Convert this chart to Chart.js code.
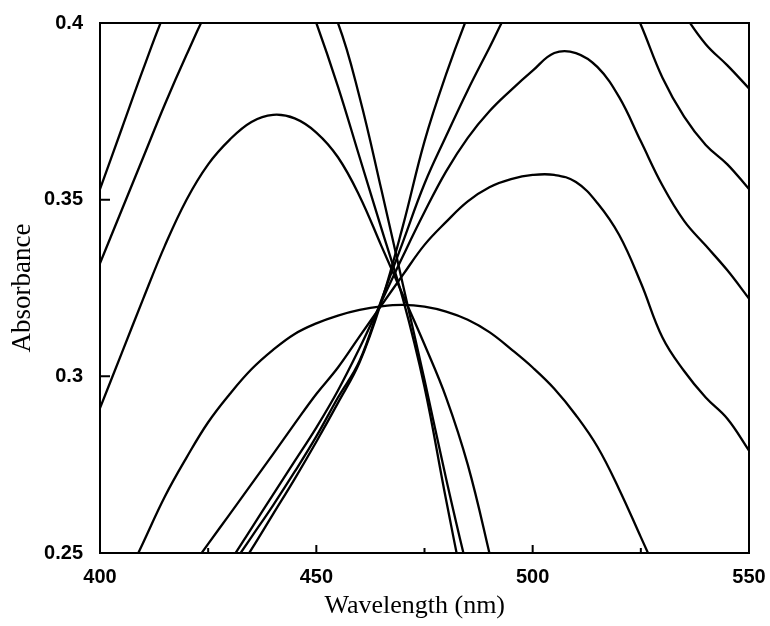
<!DOCTYPE html>
<html>
<head>
<meta charset="utf-8">
<script src="https://cdn.jsdelivr.net/npm/chart.js@4/dist/chart.umd.min.js"></script>
<style>
  html, body { margin: 0; padding: 0; background: #fff; }
</style>
</head>
<body>
<canvas id="chart" width="770" height="626"></canvas>
<script>
// wavelength grid (nm), every 5 nm
const wavelengths = [400, 405, 410, 415, 420, 425, 430, 435, 440, 445, 450, 455, 460, 465, 470,
  475, 480, 485, 490, 495, 500, 505, 510, 515, 520, 525, 530, 535, 540, 545, 550];

// spectra peaking on the short-wavelength side (values above 0.4 run off the frame)
const specL1 = [0.353, 0.370, 0.387, 0.403, 0.416, 0.425, 0.430, 0.431, 0.427, 0.416, 0.400, 0.382, 0.362, 0.342, 0.322,
  0.297, 0.265, 0.235, 0.210, 0.190, 0.175, 0.165, 0.158, 0.152, 0.148, 0.145, 0.142, 0.140, 0.138, 0.136, 0.134];
const specL2 = [0.332, 0.347, 0.362, 0.377, 0.391, 0.404, 0.414, 0.420, 0.422, 0.419, 0.412, 0.400, 0.379, 0.353, 0.326,
  0.299, 0.271, 0.245, 0.222, 0.200, 0.185, 0.175, 0.168, 0.162, 0.158, 0.155, 0.152, 0.150, 0.148, 0.146, 0.144];
const specL3 = [0.291, 0.3065, 0.322, 0.337, 0.350, 0.360, 0.367, 0.372, 0.374, 0.373, 0.369, 0.362, 0.351, 0.337, 0.323,
  0.309, 0.294, 0.275, 0.250, 0.223, 0.200, 0.185, 0.175, 0.168, 0.162, 0.158, 0.155, 0.152, 0.150, 0.148, 0.146];

// broad, flat spectrum
const specF = [0.228, 0.240, 0.253, 0.266, 0.277, 0.287, 0.295, 0.302, 0.3075, 0.312, 0.315, 0.3172, 0.3188, 0.3198, 0.3202,
  0.3197, 0.3183, 0.316, 0.3125, 0.3077, 0.3025, 0.2965, 0.289, 0.280, 0.268, 0.2545, 0.241, 0.228, 0.215, 0.200, 0.190];

// spectra peaking on the long-wavelength side
const specR1 = [0.185, 0.194, 0.203, 0.2125, 0.222, 0.2315, 0.2415, 0.251, 0.261, 0.271, 0.2815, 0.2925, 0.304, 0.321, 0.3425,
  0.3665, 0.3855, 0.402, 0.4165, 0.425, 0.430, 0.433, 0.434, 0.432, 0.427, 0.420, 0.412, 0.4025, 0.394, 0.388, 0.3815];
const specR2 = [0.191, 0.2005, 0.2095, 0.2185, 0.2275, 0.2365, 0.2455, 0.2545, 0.2635, 0.273, 0.283, 0.294, 0.3044, 0.3215, 0.338,
  0.3545, 0.368, 0.381, 0.393, 0.405, 0.414, 0.420, 0.422, 0.420, 0.413, 0.3995, 0.3845, 0.3735, 0.3655, 0.360, 0.353];
const specR3 = [0.196, 0.204, 0.212, 0.221, 0.2295, 0.2385, 0.2475, 0.257, 0.2665, 0.276, 0.2855, 0.296, 0.308, 0.321, 0.334,
  0.3465, 0.358, 0.3675, 0.375, 0.381, 0.3865, 0.3915, 0.3915, 0.3875, 0.379, 0.3665, 0.354, 0.344, 0.337, 0.330, 0.322];
const specR4 = [0.210, 0.218, 0.227, 0.2355, 0.244, 0.2526, 0.261, 0.2695, 0.278, 0.2866, 0.295, 0.3025, 0.3113, 0.320, 0.3287,
  0.3372, 0.3437, 0.3495, 0.3535, 0.3558, 0.357, 0.357, 0.355, 0.349, 0.340, 0.3265, 0.311, 0.3015, 0.294, 0.288, 0.279];

const spectra = [specL1, specL2, specL3, specF, specR1, specR2, specR3, specR4];

const xTicks = [400, 450, 500, 550];
const xMinorTicks = [425, 475, 525];
const yTicks = [0.25, 0.3, 0.35, 0.4];
const yTickLabels = ["0.25", "0.3", "0.35", "0.4"];

// box frame + inward tick marks
const frame = {
  id: 'frame',
  afterDatasetsDraw(chart) {
    const { ctx, chartArea: a, scales: { x, y } } = chart;
    ctx.save();
    ctx.strokeStyle = '#000';
    ctx.lineWidth = 2;
    ctx.strokeRect(a.left, a.top, a.right - a.left, a.bottom - a.top);
    ctx.beginPath();
    xTicks.forEach(v => {
      const px = x.getPixelForValue(v);
      ctx.moveTo(px, a.bottom);
      ctx.lineTo(px, a.bottom - 8);
    });
    xMinorTicks.forEach(v => {
      const px = x.getPixelForValue(v);
      ctx.moveTo(px, a.bottom);
      ctx.lineTo(px, a.bottom - 5);
    });
    yTicks.forEach(v => {
      const py = y.getPixelForValue(v);
      ctx.moveTo(a.left, py);
      ctx.lineTo(a.left + 10, py);
    });
    ctx.stroke();
    ctx.restore();
  }
};

const tickFont = { family: "'Liberation Sans', Arial, sans-serif", size: 20, weight: 'bold' };
const titleFont = { family: "'Liberation Serif', 'Times New Roman', serif", size: 26 };

new Chart(document.getElementById('chart'), {
  type: 'line',
  data: {
    datasets: spectra.map(vals => ({
      data: vals.map((v, i) => ({ x: wavelengths[i], y: v })),
      borderColor: '#000',
      borderWidth: 2.3,
      pointRadius: 0,
      fill: false,
      tension: 0.4
    }))
  },
  options: {
    responsive: false,
    animation: false,
    events: [],
    layout: { padding: { top: 23, right: 21, left: 0, bottom: 0 } },
    plugins: { legend: { display: false }, tooltip: { enabled: false } },
    scales: {
      x: {
        type: 'linear',
        min: 400,
        max: 550,
        grid: { display: false, drawTicks: false },
        border: { display: false },
        afterBuildTicks: s => { s.ticks = xTicks.map(v => ({ value: v })); },
        afterFit: s => { s.height = 73; s.paddingLeft = 0; s.paddingRight = 0; },
        ticks: { color: '#000', font: tickFont, padding: 12, maxRotation: 0 },
        title: { display: true, text: 'Wavelength (nm)   ', color: '#000', font: titleFont, padding: { top: 0, bottom: 4 } }
      },
      y: {
        type: 'linear',
        min: 0.25,
        max: 0.4,
        grid: { display: false, drawTicks: false },
        border: { display: false },
        afterBuildTicks: s => { s.ticks = yTicks.map(v => ({ value: v })); },
        afterFit: s => { s.width = 100; s.paddingTop = 0; s.paddingBottom = 0; },
        ticks: {
          color: '#000',
          font: tickFont,
          padding: 17,
          callback: v => yTickLabels[yTicks.indexOf(v)]
        },
        title: { display: true, text: 'Absorbance', color: '#000', font: { ...titleFont, size: 27 }, padding: { top: 7, bottom: 0 } }
      }
    }
  },
  plugins: [frame]
});
</script>
</body>
</html>
